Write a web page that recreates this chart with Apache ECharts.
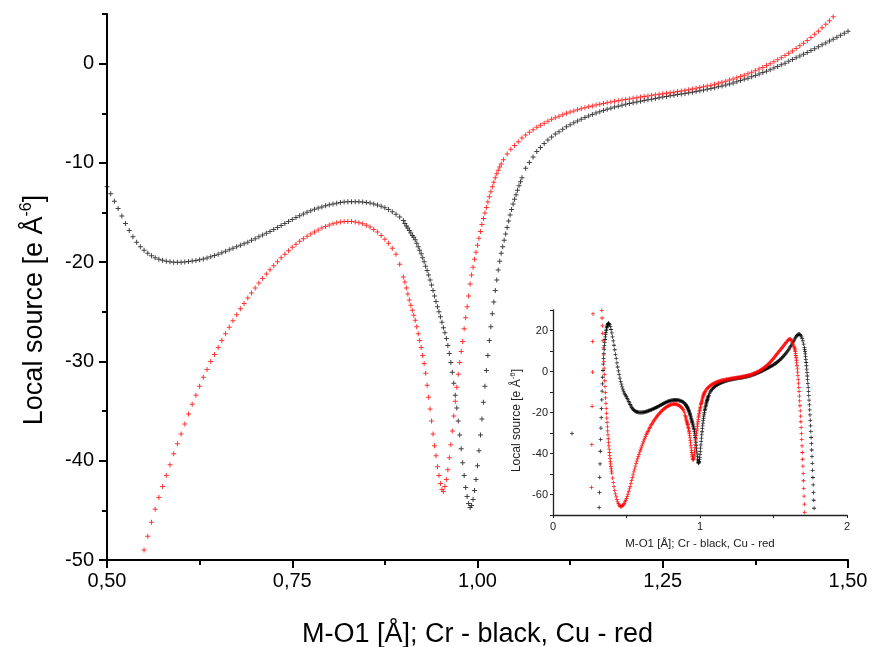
<!DOCTYPE html>
<html><head><meta charset="utf-8">
<script src="https://cdn.jsdelivr.net/npm/echarts@6/dist/echarts.min.js"></script>
<style>html,body{margin:0;padding:0;background:#fff}#c{width:873px;height:647px}</style>
</head><body><div id="c"></div>
<script>
// ---------- DATA ----------
// x positions of each segment: start + i*step (the file's sampling grid)
// Cr (black)
const crLone = [[0.129, -30.3]];
const crRiseStart = 0.314, crRiseStep = 0.002;
const crRise = [-66.3,-59.0,-51.6,-45.1,-38.9,-33.2,-27.6,-22.5,-18.0,-13.8,-9.6,-6.0,-2.8,0.5,3.6,6.4,8.8,10.8,12.6,14.2,15.6,16.9,18.0,19.0,19.9,20.7,21.4,22.0,22.5,22.9,23.2,23.4,23.5,23.4];
const crMidStart = 0.385, crMidStep = 0.005;
const crMid = [22.9,21.9,20.5,18.8,16.9,14.9,12.8,10.6,8.4,6.3,4.2,2.2,0.3,-1.5,-3.2,-4.8,-6.2,-7.5,-8.6,-9.6,-10.5,-11.2,-11.85,
-12.4,-13.1,-13.85,-14.6,-15.35,-16.1,-16.8,-17.45,-18.0,-18.45,-18.8,-19.1,-19.35,-19.55,-19.7,-19.8,-19.9,-19.95,-20.0,-20.0,
-20.0,-19.97,-19.93,-19.88,-19.82,-19.75,-19.67,-19.57,-19.45,-19.33,-19.2,-19.05,-18.9,-18.75,-18.6,-18.45,-18.3,-18.15,-17.98,-17.8,
-17.63,-17.45,-17.27,-17.08,-16.9,-16.7,-16.5,-16.3,-16.1,-15.9,-15.7,-15.5,-15.32,-15.15,-14.98,-14.82,-14.68,-14.55,-14.43,-14.32,
-14.22,-14.13,-14.06,-14.0,-13.95,-13.92,-13.9,-13.9,-13.91,-13.94,-13.98,-14.05,-14.13,-14.24,-14.37,-14.52,-14.7,-14.92,-15.17,-15.45,-15.8];
const crDipStart = 0.902, crDipStep = 0.002;
const crDip = [-16.1,-16.35,-16.55,-16.8,-17.05,-17.3,-17.5,-17.75,-18.1,-18.45,-18.8,-19.15,-19.55,-19.95,-20.4,-20.85,-21.3,-21.8,-22.3,-22.85,
-23.4,-23.95,-24.5,-25.0,-25.5,-26.05,-26.6,-27.1,-27.7,-28.4,-29.2,-30.1,-31.1,-32.2,-33.4,-34.7,-36.0,-37.4,-38.8,-40.2,
-41.5,-42.7,-43.6,-44.3,-44.7,-44.5,-43.9,-43.0,-41.9,-40.5,-39.0,-37.4,-35.8,-34.1,-32.5,-30.9,-29.4,-27.9,-26.5,-25.2,
-24.0,-22.85,-21.8,-20.8,-19.9,-19.1,-18.45,-17.8,-17.15,-16.5,-15.85,-15.25,-14.7,-14.15,-13.65,-13.2,-12.75,-12.3,-11.9,-11.5];
const crHighStart = 1.065, crHighStep = 0.005;
const crHigh = [-10.55,-9.95,-9.4,-8.85,-8.45,-8.05,-7.7,-7.4,-7.1,-6.85,-6.6,-6.37,-6.15,-5.95,-5.77,-5.6,-5.43,-5.27,-5.12,-4.98,
-4.85,-4.72,-4.6,-4.49,-4.38,-4.28,-4.19,-4.1,-4.02,-3.94,-3.86,-3.79,-3.72,-3.65,-3.58,-3.51,-3.44,-3.37,-3.3,-3.23,
-3.18,-3.12,-3.06,-3.0,-2.94,-2.87,-2.8,-2.73,-2.66,-2.58,-2.5,-2.42,-2.34,-2.25,-2.15,-2.05,-1.94,-1.82,-1.7,-1.58,
-1.46,-1.33,-1.19,-1.05,-0.9,-0.76,-0.61,-0.45,-0.29,-0.12,0.05,0.23,0.41,0.59,0.77,0.95,1.13,1.32,1.51,1.7,
1.89,2.08,2.27,2.46,2.65,2.85,3.05,3.25,3.5,3.75,4.0,4.27,4.55,4.85,5.15,5.47,5.8,6.15,6.5,6.87,
7.25,7.65,8.07,8.5,8.95,9.42,9.9,10.4,10.95,11.5,12.1,12.7,13.35,14.0,14.65,15.3,15.9,16.5,17.05,17.55,
17.95,18.2,18.25,18.05,17.6,16.9,16.0,14.9,13.4,11.6];
const crFallStart = 1.712, crFallStep = 0.002;
const crFall = [10.7,9.7,8.6,7.3,5.9,4.4,2.8,1.2,-0.5,-2.2,-4.0,-5.8,-7.7,-9.7,-11.8,-14.0,-16.3,-18.7,-21.2,-23.8,
-26.5,-29.3,-32.2,-35.2,-38.3,-41.5,-44.8,-48.2,-51.7,-55.3,-59.0,-62.8,-66.7,-70.7];

// Cu (red)
const cuLeft = [[0.262,-56.6],[0.264,-35.7],[0.266,-17.0],[0.268,-0.3],[0.270,14.6],[0.272,28.1]];
const cuDropStart = 0.332, cuDropStep = 0.002;
const cuDrop = [29.8,26.1,22.3,18.6,15.0,11.5,8.1,4.8,1.6,-1.5,-4.5,-7.4,-10.2,-12.9,-15.5,-18.0,-20.4,-22.7,-24.9,-27.0,
-29.0,-30.9,-32.8,-34.6,-36.3,-37.9,-39.5,-41.0,-42.4,-43.8,-45.1,-46.3,-47.5,-48.6,-49.6];
const cuMidStart = 0.405, cuMidStep = 0.005;
const cuMid = [-52.0,-54.2,-56.2,-58.0,-59.7,-61.2,-62.5,-63.6,-64.5,-65.2,-65.6,-65.8,-65.8,-65.6,-65.3,-64.9,-64.3,-63.6,-62.8,
-61.9,-60.9,-59.8,-58.6,-57.3,-56.0,-54.6,-53.2,-51.8,-50.4,-49.0,-47.6,-46.2,-44.9,-43.7,-42.6,-41.5,-40.4,-39.3,-38.3,
-37.3,-36.3,-35.3,-34.3,-33.4,-32.5,-31.6,-30.8,-30.0,-29.3,-28.6,-27.9,-27.2,-26.55,-25.9,-25.3,-24.7,-24.15,-23.6,-23.1,
-22.6,-22.1,-21.65,-21.2,-20.75,-20.35,-19.95,-19.55,-19.2,-18.85,-18.5,-18.2,-17.9,-17.65,-17.4,-17.15,-16.95,-16.75,-16.55,-16.4,
-16.25,-16.13,-16.03,-15.96,-15.91,-15.89,-15.9,-15.94,-16.02,-16.13,-16.27,-16.45,-16.7,-16.97,-17.3,-17.68,-18.1,-18.6,-19.2,-20.2,-21.5];
const cuDipStart = 0.902, cuDipStep = 0.002;
const cuDip = [-22.0,-22.6,-23.2,-23.8,-24.35,-24.85,-25.35,-25.85,-26.5,-27.2,-27.9,-28.6,-29.4,-30.2,-31.2,-32.4,-33.6,-34.8,-36.0,-37.3,
-38.5,-39.5,-40.6,-41.5,-42.3,-42.9,-43.1,-42.6,-41.9,-40.9,-39.7,-38.4,-37.0,-35.5,-34.0,-32.6,-31.3,-30.1,-29.0,-28.0,
-26.7,-25.6,-24.5,-23.4,-22.2,-21.3,-20.5,-19.7,-19.0,-18.3,-17.6,-16.9,-16.2,-15.6,-15.05,-14.5,-13.95,-13.4,-12.9,-12.4,
-11.95,-11.5,-11.1,-10.75,-10.4,-10.1];
const cuHighStart = 1.035, cuHighStep = 0.005;
const cuHigh = [-9.67,-9.1,-8.62,-8.25,-7.87,-7.5,
-7.2,-6.9,-6.65,-6.4,-6.2,-6.0,-5.8,-5.6,-5.45,-5.3,-5.15,-5.0,-4.88,-4.76,-4.65,-4.54,-4.44,-4.35,-4.26,-4.17,
-4.09,-4.01,-3.94,-3.87,-3.8,-3.73,-3.67,-3.61,-3.55,-3.49,-3.43,-3.37,-3.31,-3.25,-3.19,-3.13,-3.08,-3.03,-2.98,-2.93,
-2.87,-2.81,-2.75,-2.69,-2.62,-2.55,-2.48,-2.41,-2.33,-2.25,-2.17,-2.08,-1.98,-1.88,-1.77,-1.66,-1.54,-1.42,-1.29,-1.16,
-1.02,-0.87,-0.71,-0.55,-0.38,-0.2,-0.01,0.18,0.38,0.59,0.81,1.04,1.28,1.53,1.79,2.06,2.34,2.64,2.95,3.27,
3.61,3.96,4.33,4.72,5.12,5.54,5.97,6.42,6.85,7.3,7.75,8.2,8.65,9.1,9.55,10.0,10.45,10.9,11.35,11.8,
12.25,12.7,13.15,13.6,14.05,14.5,14.95,15.35,15.7,15.9,15.75,15.4,14.9,14.2,13.35,12.3];
const cuFallStart = 1.642, cuFallStep = 0.002;
const cuFall = [11.8,11.2,10.5,9.7,8.8,7.8,6.7,5.5,4.2,2.8,1.3,-0.3,-2.0,-3.8,-5.7,-7.7,-9.8,-12.0,-14.3,-16.7,
-19.2,-21.8,-24.5,-27.3,-30.2,-33.2,-36.3,-39.5,-42.8,-46.2,-49.7,-53.3,-57.0,-60.8,-64.7,-68.7];

// axis ticks
const mainYLabels = [-50, -40, -30, -20, -10, 0];
const mainYMinor = [-45, -35, -25, -15, -5, 5];
const insetYLabels = [-60, -40, -20, 0, 20];

// ---------- build ----------
function seg(start, step, vals) { return vals.map((v, i) => [Math.round((start + i * step) * 10000) / 10000, v]); }
const crData = [].concat(crLone, seg(crRiseStart, crRiseStep, crRise), seg(crMidStart, crMidStep, crMid),
  seg(crDipStart, crDipStep, crDip), seg(crHighStart, crHighStep, crHigh), seg(crFallStart, crFallStep, crFall));
const cuData = [].concat(cuLeft, seg(cuDropStart, cuDropStep, cuDrop), seg(cuMidStart, cuMidStep, cuMid),
  seg(cuDipStart, cuDipStep, cuDip), seg(cuHighStart, cuHighStep, cuHigh), seg(cuFallStart, cuFallStep, cuFall));

const FONT = 'Liberation Sans, Arial, sans-serif';
const PLUS = 'path://M2,0L3,0L3,2L5,2L5,3L3,3L3,5L2,5L2,3L0,3L0,2L2,2Z';
const BLACK = '#000000', RED = '#ff0000';

function sc(name, data, color, xi, yi, size, op) {
  return { type: 'scatter', name, data, xAxisIndex: xi, yAxisIndex: yi, symbol: PLUS, symbolSize: size,
    itemStyle: { color, opacity: op }, silent: true, clip: true, animation: false, z: 3 };
}

const chart = echarts.init(document.getElementById('c'), null, { renderer: 'canvas' });
chart.setOption({
  backgroundColor: '#ffffff',
  animation: false,
  textStyle: { fontFamily: FONT },
  grid: [
    { left: 107, top: 14, width: 741, height: 546, containLabel: false, outerBoundsMode: 'none' },
    { left: 553, top: 310, width: 294, height: 205, containLabel: false, outerBoundsMode: 'none' }
  ],
  xAxis: [
    { type: 'value', gridIndex: 0, min: 0.5, max: 1.5, interval: 0.25,
      axisLine: { onZero: false, lineStyle: { color: '#000', width: 2 } },
      axisTick: { length: 8, lineStyle: { color: '#000', width: 2 } },
      minorTick: { show: true, splitNumber: 2, length: 5, lineStyle: { color: '#000', width: 2 } },
      splitLine: { show: false }, minorSplitLine: { show: false },
      axisLabel: { fontSize: 20, color: '#000', margin: 11, fontFamily: FONT,
        formatter: v => v.toFixed(2).replace('.', ',') },
      name: 'M-O1 [Å]; Cr - black, Cu - red', nameLocation: 'middle', nameGap: 61,
      nameTextStyle: { fontSize: 27, color: '#000', fontFamily: FONT } },
    { type: 'value', gridIndex: 1, min: 0, max: 2, interval: 1,
      axisLine: { onZero: false, lineStyle: { color: '#222', width: 1.3 } },
      axisTick: { length: 3, lineStyle: { color: '#222', width: 1 } },
      minorTick: { show: true, splitNumber: 2, length: 3, lineStyle: { color: '#222', width: 1 } },
      splitLine: { show: false }, minorSplitLine: { show: false },
      axisLabel: { fontSize: 11, color: '#222', margin: 6, fontFamily: FONT },
      name: 'M-O1 [Å]; Cr - black, Cu - red', nameLocation: 'middle', nameGap: 23,
      nameTextStyle: { fontSize: 11.5, color: '#222', fontFamily: FONT } }
  ],
  yAxis: [
    { type: 'value', gridIndex: 0, position: 'left', offset: 0, min: -50, max: 5, interval: 5,
      axisLine: { show: true, onZero: false, lineStyle: { color: '#000', width: 2 } },
      axisTick: { length: 8, customValues: mainYLabels, lineStyle: { color: '#000', width: 2 } },
      splitLine: { show: false },
      axisLabel: { fontSize: 20, color: '#000', margin: 13, fontFamily: FONT, customValues: mainYLabels },
      name: 'Local source [e Å{sup|-6}]', nameLocation: 'middle', nameGap: 56, nameRotate: 90,
      nameTextStyle: { fontSize: 27, color: '#000', fontFamily: FONT, lineHeight: 32, padding: [0, 46, 0, 0],
        rich: { sup: { fontSize: 16, fontFamily: FONT, color: '#000', verticalAlign: 'top', lineHeight: 32 } } } },
    { type: 'value', gridIndex: 0, position: 'left', offset: 0, min: -50, max: 5, interval: 5,
      axisLine: { show: false, onZero: false },
      axisTick: { length: 5, customValues: mainYMinor, lineStyle: { color: '#000', width: 2 } },
      axisLabel: { show: false }, splitLine: { show: false } },
    { type: 'value', gridIndex: 1, position: 'left', min: -70, max: 30, interval: 10,
      axisLine: { show: true, onZero: false, lineStyle: { color: '#222', width: 1.3 } },
      axisTick: { length: 3, lineStyle: { color: '#222', width: 1 } },
      splitLine: { show: false },
      axisLabel: { fontSize: 11, color: '#222', margin: 5, fontFamily: FONT, customValues: insetYLabels },
      name: 'Local source [e Å{sup|-6}]', nameLocation: 'middle', nameGap: 29, nameRotate: 90,
      nameTextStyle: { fontSize: 12, color: '#222', fontFamily: FONT, lineHeight: 15, padding: [0, 16, 0, 0],
        rich: { sup: { fontSize: 8, fontFamily: FONT, color: '#222', verticalAlign: 'top', lineHeight: 15 } } } }
  ],
  series: [
    sc('Cr', crData, BLACK, 0, 0, 5, 0.75),
    sc('Cu', cuData, RED, 0, 0, 5, 0.8),
    sc('Cr inset', crData, BLACK, 1, 2, 4, 0.85),
    sc('Cu inset', cuData, RED, 1, 2, 4, 0.9)
  ]
});
</script>
</body></html>
